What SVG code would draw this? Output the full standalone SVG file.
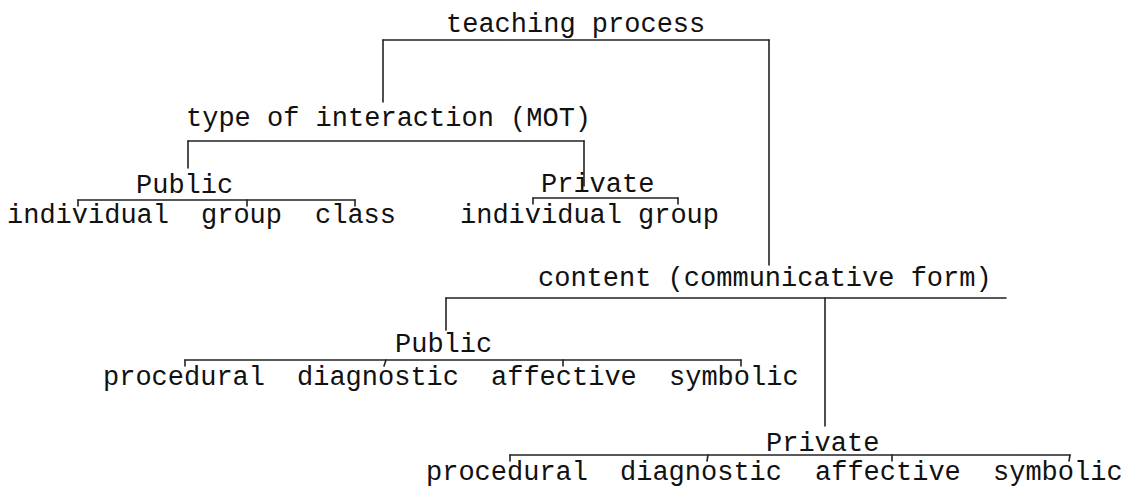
<svg xmlns="http://www.w3.org/2000/svg" width="1127" height="487" viewBox="0 0 1127 487">
<style>
text{font-family:"Liberation Mono","Courier New",monospace;font-size:27px;fill:#111}
.c line{stroke:#222;stroke-width:1.6;stroke-linecap:round}
</style>
<rect width="1127" height="487" fill="#fff"/>
<g class="c" id="connectors">
<line x1="383" y1="40" x2="769" y2="40"/>
<line x1="383" y1="40" x2="383" y2="102"/>
<line x1="769" y1="40" x2="769" y2="265"/>
<line x1="188" y1="141" x2="584" y2="141"/>
<line x1="188" y1="141" x2="188" y2="168"/>
<line x1="584" y1="141" x2="584" y2="186"/>
<line x1="78" y1="200" x2="355" y2="200"/>
<line x1="78" y1="200" x2="78" y2="206"/>
<line x1="247" y1="200" x2="247" y2="206"/>
<line x1="355" y1="200" x2="355" y2="206"/>
<line x1="533" y1="198" x2="678" y2="198"/>
<line x1="533" y1="198" x2="533" y2="204"/>
<line x1="678" y1="198" x2="678" y2="204"/>
<line x1="446" y1="298" x2="1006" y2="298"/>
<line x1="446" y1="298" x2="446" y2="330"/>
<line x1="825" y1="298" x2="825" y2="426"/>
<line x1="185" y1="360" x2="741" y2="360"/>
<line x1="185" y1="360" x2="185" y2="366"/>
<line x1="386" y1="360" x2="384" y2="366"/>
<line x1="563" y1="360" x2="563" y2="366"/>
<line x1="741" y1="360" x2="741" y2="366"/>
<line x1="510" y1="455" x2="1070" y2="455"/>
<line x1="510" y1="455" x2="510" y2="461"/>
<line x1="708" y1="455" x2="707" y2="461"/>
<line x1="892" y1="455" x2="892" y2="461"/>
<line x1="1070" y1="455" x2="1069" y2="461"/>
</g>
<g id="teaching"><text x="446" y="32">teaching process</text></g>
<g id="mot"><text x="186" y="126">type of interaction (MOT)</text></g>
<g id="mot-public"><text x="136" y="193">Public</text></g>
<g id="mot-public-individual"><text x="7" y="223">individual</text></g>
<g id="mot-public-group"><text x="201" y="223">group</text></g>
<g id="mot-public-class"><text x="315" y="223">class</text></g>
<g id="mot-private"><text x="541" y="192">Private</text></g>
<g id="mot-private-individual"><text x="460" y="223">individual</text></g>
<g id="mot-private-group"><text x="638" y="223">group</text></g>
<g id="content"><text x="538" y="286">content (communicative form)</text></g>
<g id="content-public"><text x="395" y="352">Public</text></g>
<g id="pub-procedural"><text x="103" y="385">procedural</text></g>
<g id="pub-diagnostic"><text x="297" y="385">diagnostic</text></g>
<g id="pub-affective"><text x="491" y="385">affective</text></g>
<g id="pub-symbolic"><text x="669" y="385">symbolic</text></g>
<g id="content-private"><text x="766" y="451">Private</text></g>
<g id="pri-procedural"><text x="426" y="480">procedural</text></g>
<g id="pri-diagnostic"><text x="620" y="480">diagnostic</text></g>
<g id="pri-affective"><text x="815" y="480">affective</text></g>
<g id="pri-symbolic"><text x="993" y="480">symbolic</text></g>
</svg>
